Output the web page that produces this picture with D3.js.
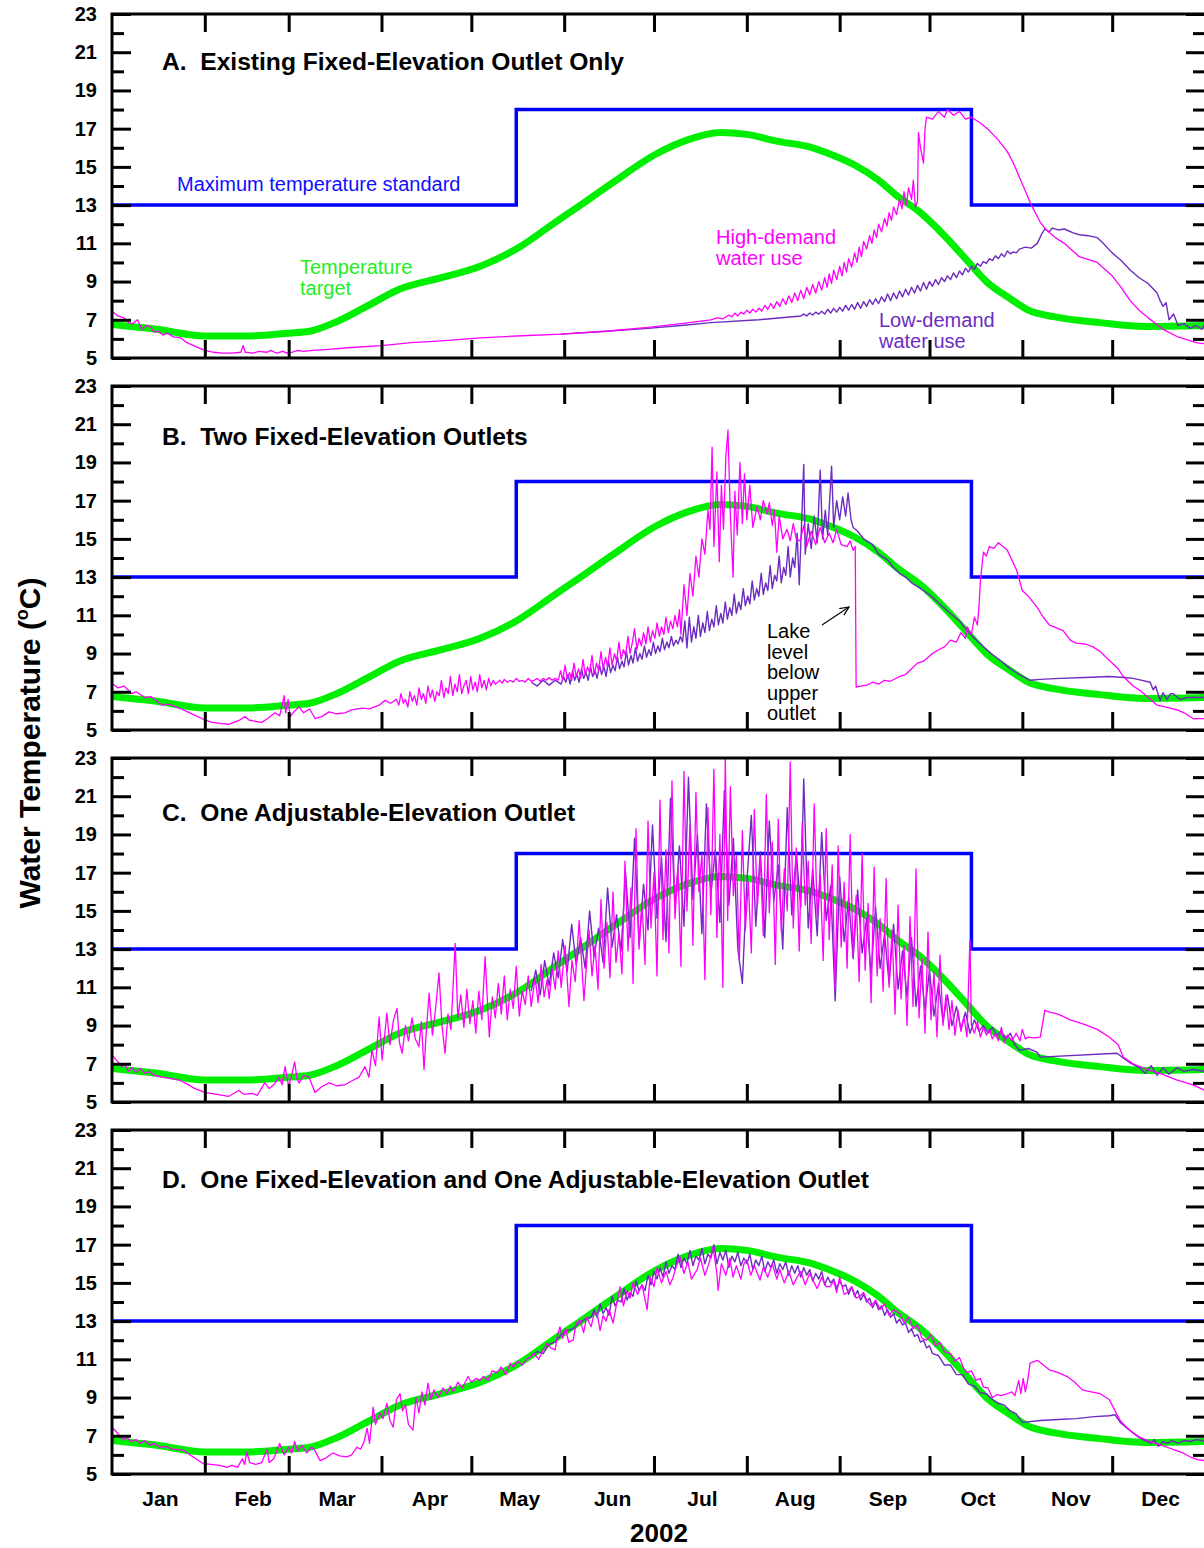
<!DOCTYPE html>
<html>
<head>
<meta charset="utf-8">
<script src="https://cdn.jsdelivr.net/npm/d3@7"></script>
<style>
  body { margin: 0; background: #fff; }
  svg { display: block; font-family: Arial, "Liberation Sans", sans-serif; }
</style>
</head>
<body>
<div id="chart"></div>
<script>
// ---- data (day of year 2002, water temperature in deg C) ----
var monthNames = ["Jan","Feb","Mar","Apr","May","Jun","Jul","Aug","Sep","Oct","Nov","Dec"];
var monthStarts = [0,31,59,90,120,151,181,212,243,273,304,334,365];
var labelTicks = [5,7,9,11,13,15,17,19,21,23];
var minorTicks = [6,8,10,12,14,16,18,20,22];

var panelTitles = [
  "A.  Existing Fixed-Elevation Outlet Only",
  "B.  Two Fixed-Elevation Outlets",
  "C.  One Adjustable-Elevation Outlet",
  "D.  One Fixed-Elevation and One Adjustable-Elevation Outlet"
];

// maximum temperature standard (step)
var stdDays  = [0, 135, 287, 365];
var stdTemps = [13, 18, 13, 13];

// temperature target (same in every panel)
var targetDays  = [0,15,31,45,59,66,75,85,96,110,123,136,148,156,167,182,192,203,212,222,234,241,248,256,262,270,278,285,292,300,306,315,330,345,365];
var targetTemps = [6.75,6.5,6.15,6.15,6.3,6.4,6.9,7.7,8.6,9.2,9.8,10.8,12.1,12.95,14.15,15.7,16.4,16.8,16.7,16.35,16.0,15.6,15.1,14.3,13.5,12.6,11.4,10.2,9.0,8.1,7.5,7.15,6.85,6.65,6.7];

// series written as day, temp, day, temp, ...
var aHigh = [0,7.45, 2,7.2, 4,7.1, 5.5,6.85, 7,6.8, 8.5,7.0, 10,6.5, 11.5,6.7, 13,6.6, 14,6.35, 15.5,6.4, 17,6.2, 18.5,6.3, 20.5,6.1, 23,6.05, 25,5.8, 28,5.6, 31,5.4, 34,5.3, 37,5.25, 40,5.25, 43,5.3, 43.8,5.65, 44.5,5.3, 47,5.25, 49,5.35, 51.8,5.3, 53,5.4, 55,5.25, 57,5.35, 58.5,5.25, 60,5.3, 62,5.4, 64,5.35, 67,5.4, 72,5.45, 80,5.55, 90,5.65, 100,5.8, 110,5.9, 123,6.05, 135,6.15, 150,6.25, 165,6.4, 179,6.6, 190,6.8, 200,7.0, 202,7.1, 204,7.05, 206,7.25, 207,7.15, 208,7.35, 209,7.2, 210,7.4, 211,7.3, 212,7.5, 213,7.35, 214,7.55, 215,7.4, 216,7.6, 217,7.45, 218,7.75, 219,7.55, 220,7.85, 221,7.6, 222,7.95, 223,7.7, 224,8.1, 225,7.8, 226,8.25, 227,7.9, 228,8.4, 229,8.0, 230,8.55, 231,8.1, 232,8.7, 233,8.3, 234,8.85, 235,8.4, 236,9.0, 237,8.55, 238,9.2, 238.8,8.7, 239.5,9.4, 240.3,8.9, 241,9.6, 242,9.1, 243,9.8, 243.8,9.3, 244.5,10.0, 245.3,9.5, 246,10.2, 247,9.75, 248,10.5, 248.8,10.0, 249.5,10.8, 250.3,10.3, 251,11.1, 252,10.7, 253,11.4, 253.8,11.0, 254.5,11.7, 255.3,11.3, 256,12.0, 257,11.6, 258,12.3, 258.8,11.9, 259.5,12.6, 260.3,12.2, 261,12.9, 262,12.5, 263,13.3, 263.8,12.8, 264.5,13.7, 265.3,13.0, 266,13.9, 267,13.3, 267.6,14.3, 268.3,12.9, 269,13.2, 269.3,16.8, 270,16.0, 271,15.2, 271.5,17.0, 272,17.6, 274,17.5, 276,17.9, 278,17.6, 279,18.0, 281,17.7, 283,17.9, 285,17.5, 287,17.6, 290,17.3, 293,16.9, 296,16.4, 299,15.8, 301,15.2, 304,14.1, 307,13.0, 310,12.1, 312,11.7, 315,11.3, 318,11.0, 323,10.3, 329,10.0, 334,9.3, 337,8.7, 340,8.0, 343,7.5, 346,7.1, 351,6.5, 356,6.1, 362,5.8, 365,5.75];

var aLow = [150,6.25, 165,6.4, 179,6.55, 190,6.7, 200,6.85, 216,7.0, 230,7.2, 231,7.3, 232,7.2, 233,7.35, 234,7.25, 235,7.4, 236,7.3, 237,7.45, 238,7.3, 239,7.55, 240,7.35, 241,7.6, 242,7.4, 243,7.65, 244,7.45, 245,7.75, 246,7.5, 247,7.8, 248,7.55, 249,7.9, 250,7.6, 251,7.95, 252,7.7, 253,8.05, 254,7.8, 255,8.1, 256,7.85, 257,8.2, 258,7.95, 259,8.35, 260,8.0, 261,8.4, 262,8.1, 263,8.5, 264,8.2, 265,8.6, 266,8.3, 267,8.7, 268,8.4, 269,8.8, 270,8.5, 271,8.95, 272,8.6, 273,9.0, 274,8.75, 275,9.1, 276,8.85, 277,9.2, 278,9.0, 279,9.3, 280,9.1, 281,9.45, 282,9.2, 283,9.55, 284,9.35, 285,9.7, 286,9.5, 287,9.8, 288,9.65, 289,9.95, 290,9.8, 291,10.05, 292,9.95, 293,10.2, 294,10.1, 295,10.35, 296,10.2, 297,10.45, 298,10.3, 299,10.6, 300,10.45, 301,10.55, 302,10.5, 303,10.7, 305,10.8, 307,10.75, 309,11.0, 310.5,11.5, 311.5,11.75, 313,11.6, 314,11.8, 316,11.7, 318,11.75, 321,11.55, 323,11.45, 326,11.4, 329,11.3, 331,11.0, 334,10.5, 337,10.1, 340,9.6, 343,9.2, 346,8.9, 349,8.4, 350,8.0, 351,7.7, 352,7.9, 353,7.0, 354.5,7.3, 356,6.7, 358,6.8, 360,6.55, 362,6.7, 364,6.5, 365,6.8];

var bHigh = [0,7.45, 2,7.2, 4,7.3, 6.7,6.9, 8,7.0, 11,6.7, 13,6.75, 16.7,6.3, 19,6.35, 22.4,6.15, 26,5.9, 30,5.6, 33.4,5.4, 36,5.35, 39,5.3, 42.4,5.5, 44.4,5.7, 46,5.5, 50,5.4, 52,5.6, 54.4,5.9, 56,5.75, 57.5,6.8, 58,5.9, 58.8,6.6, 59.5,5.7, 61,6.0, 62.5,6.2, 64,5.9, 66,6.1, 67.8,5.6, 70,5.7, 72.5,5.95, 75,5.85, 77.8,5.9, 80,6.05, 83.5,6.15, 86,6.1, 89.2,6.3, 91.2,6.55, 93,6.4, 95,6.6, 95.8,6.3, 96.5,6.9, 97.3,6.4, 98,6.6, 98.8,6.2, 99.5,7.0, 100.3,6.5, 101,6.8, 101.8,6.3, 102.5,7.2, 103.3,6.6, 104,6.9, 104.8,6.4, 105.5,7.3, 106.3,6.7, 107,7.1, 107.8,6.5, 108.5,7.0, 109.3,6.8, 110,7.6, 110.8,6.7, 111.5,7.2, 112.3,6.9, 113,7.8, 113.8,6.8, 114.5,7.4, 115.3,7.0, 116,7.9, 116.8,6.9, 117.5,7.3, 118.3,7.6, 119,6.9, 119.8,7.8, 120.5,7.1, 121.3,7.5, 122,7.0, 122.8,7.9, 123.5,7.2, 124.3,7.6, 125,7.1, 125.8,7.7, 126.5,7.3, 127.3,7.6, 128,7.4, 128.8,7.5, 129.5,7.6, 130.3,7.45, 131,7.65, 132,7.5, 133,7.6, 134,7.5, 135,7.7, 136,7.55, 137,7.6, 138,7.5, 139,7.7, 140,7.55, 141,7.6, 142,7.7, 143,7.55, 144,7.7, 145,7.6, 146,7.75, 147,7.6, 148,7.7, 149,7.6, 149.8,8.1, 150.5,7.6, 151.3,8.4, 152,7.7, 152.8,8.0, 153.5,7.6, 154.3,8.5, 155,7.8, 155.8,8.2, 156.5,7.7, 157.3,8.7, 158,7.9, 158.8,8.3, 159.5,8.0, 160.3,8.9, 161,7.9, 161.8,8.5, 162.5,8.1, 163.3,9.1, 164,8.2, 164.8,8.8, 165.5,8.3, 166.3,9.3, 167,8.4, 167.8,9.0, 168.5,8.6, 169.3,9.6, 170,8.7, 170.8,9.2, 171.5,8.9, 172.3,9.9, 173,9.0, 173.8,9.6, 174.5,10.3, 175.3,9.2, 176,9.8, 176.8,9.4, 177.5,10.1, 178.3,9.5, 179,10.4, 179.8,9.6, 180.5,10.2, 181.3,9.8, 182,10.6, 182.8,9.9, 183.5,10.4, 184.3,10.0, 185,10.9, 185.8,10.1, 186.5,10.7, 187.3,10.3, 188,11.0, 188.8,10.4, 189.5,11.3, 190,10.0, 191,12.6, 192,11.0, 193,13.2, 194,12.0, 195,14.1, 196,13.0, 197,15.0, 198,14.2, 199,16.5, 199.7,15.5, 200.4,19.8, 201,14.6, 202,18.5, 202.8,13.8, 203.5,17.8, 204.2,15.5, 205,19.3, 205.7,20.7, 206.5,16.2, 207.4,13.0, 208,17.5, 208.8,15.2, 209.7,19.0, 210.5,15.8, 211.2,18.4, 212,16.0, 213,17.8, 214,15.6, 215.4,16.7, 216.5,16.0, 217.5,17.0, 218.8,16.3, 219.5,16.9, 220.5,15.7, 221.2,16.5, 222,14.3, 222.8,16.2, 224,15.0, 225.4,15.5, 226.5,14.9, 227.5,15.8, 228.5,15.0, 229.8,14.9, 231,15.7, 232,14.6, 233.5,15.4, 235,14.7, 236.5,15.6, 238,14.8, 239.5,15.3, 240.8,14.8, 242,15.5, 243.5,14.7, 245.5,14.6, 246.5,14.9, 247.5,14.4, 248.2,14.6, 248.5,7.25, 250,7.3, 252,7.35, 254,7.5, 256,7.4, 258,7.6, 260,7.55, 263,7.8, 265,7.9, 267,8.2, 269,8.5, 271,8.6, 274,9.0, 276,9.2, 278,9.35, 280,9.7, 282,9.6, 283.5,10.1, 285,9.8, 285.6,10.4, 287,10.0, 288,10.9, 289,10.5, 289.5,11.4, 290,12.8, 291,14.3, 292,14.1, 293,14.6, 294.5,14.5, 296,14.8, 297.5,14.6, 299,14.4, 302,13.4, 304,12.3, 306,12.0, 309,11.4, 311,10.9, 313,10.5, 317.6,10.2, 320,9.7, 322,9.55, 325,9.5, 327.6,9.35, 330,9.1, 333,8.65, 336,8.2, 337.7,7.8, 341,7.3, 343,7.1, 345.7,6.75, 349,6.3, 352,6.2, 355.7,6.05, 358,5.9, 361,5.6, 365,5.6];

var bLow = [140,7.5, 142,7.3, 144,7.6, 146,7.35, 148,7.6, 150,7.4, 150.8,7.8, 151.5,7.5, 152.3,7.9, 153,7.4, 153.8,8.1, 154.5,7.6, 155.3,7.9, 156,7.5, 156.8,8.2, 157.5,7.7, 158.3,8.0, 159,7.6, 159.8,8.3, 160.5,7.8, 161.3,8.1, 162,7.7, 162.8,8.4, 163.5,7.9, 164.3,8.3, 165,7.8, 165.8,8.6, 166.5,8.0, 167.3,8.4, 168,8.1, 168.8,8.8, 169.5,8.2, 170.3,8.6, 171,8.3, 171.8,9.1, 172.5,8.4, 173.3,8.9, 174,8.5, 174.8,9.3, 175.5,8.6, 176.3,9.0, 177,8.7, 177.8,9.4, 178.5,8.8, 179.3,9.2, 180,8.9, 180.8,9.6, 181.5,9.0, 182.3,9.4, 183,9.1, 183.8,9.8, 184.5,9.2, 185.3,9.6, 186,9.3, 186.8,9.9, 187.5,9.4, 188.3,9.7, 189,9.5, 189.8,9.9, 190.5,9.6, 191.3,10.7, 192,9.3, 192.8,10.9, 193.5,9.6, 194.3,10.4, 195,9.8, 195.8,11.0, 196.5,9.9, 197.3,10.6, 198,10.1, 198.8,11.2, 199.5,10.2, 200.3,10.8, 201,10.4, 201.8,11.5, 202.5,10.5, 203.3,11.1, 204,10.6, 204.8,11.7, 205.5,10.8, 206.3,11.4, 207,11.0, 207.8,12.1, 208.5,11.1, 209.3,11.7, 210,11.3, 210.8,12.4, 211.5,11.5, 212.3,12.0, 213,11.6, 213.8,12.8, 214.5,11.8, 215.3,12.4, 216,12.0, 216.8,13.2, 217.5,12.1, 218.3,12.7, 219,12.3, 219.8,13.6, 220.5,12.4, 221.3,13.1, 222,12.8, 222.8,14.1, 223.5,12.7, 224.3,13.5, 225,13.1, 225.8,14.6, 226.5,13.0, 227.3,14.0, 228,13.5, 228.8,15.3, 229.5,12.6, 230.3,15.9, 231,18.9, 231.5,14.2, 232.5,15.8, 233.5,14.5, 234.5,16.2, 235.5,14.8, 236.5,18.6, 237.3,15.0, 238.2,16.5, 239,15.2, 240.3,18.8, 241,15.6, 242,17.0, 243,16.0, 244,17.2, 245,16.2, 245.8,17.4, 246.8,16.0, 247.5,15.6, 249,15.4, 251,15.0, 252,14.9, 254,14.7, 256,14.2, 257.5,14.05, 259,13.9, 261,13.5, 263,13.2, 265,13.0, 267,12.7, 269,12.5, 271,12.3, 274,11.95, 277,11.5, 280,11.1, 283,10.7, 285.6,10.2, 288,9.8, 291,9.35, 294,8.95, 296.6,8.65, 300,8.2, 303,7.9, 306.6,7.6, 310,7.65, 316.6,7.7, 325,7.75, 333,7.8, 338,7.75, 341,7.7, 344,7.6, 346.7,7.5, 347.7,7.1, 348.5,7.3, 350,6.55, 351,6.95, 352.3,6.6, 353.5,6.9, 354.4,6.9, 356.7,6.6, 359,6.7, 361,6.7, 365,6.7];

var cHigh = [0,7.45, 2,7.1, 3.3,6.85, 4.5,6.95, 5.5,6.6, 6.7,6.8, 8,6.55, 9.5,6.75, 11,6.5, 12.5,6.6, 14,6.4, 16.7,6.3, 19,6.25, 22.4,6.15, 25,5.95, 27.7,5.7, 31,5.5, 35,5.4, 39,5.3, 42.4,5.6, 44,5.4, 46.8,5.45, 48.5,5.35, 51,6.0, 52.5,5.7, 54,5.9, 55.8,6.3, 56.8,5.9, 57.8,6.85, 59,5.8, 60,6.4, 61,7.1, 61.8,6.2, 62.5,6.0, 64,6.4, 65.8,6.3, 67.8,5.5, 70,5.8, 72.5,6.0, 75,5.85, 77.8,5.9, 80,6.1, 82.5,6.3, 84.5,6.85, 85.8,6.3, 86.8,7.7, 88,6.9, 89.2,9.45, 90.2,7.2, 91.8,9.65, 92.8,8.0, 94,9.3, 95.2,9.9, 96,8.1, 96.9,7.55, 98,9.0, 99,8.2, 100.2,9.4, 101.3,8.3, 102.5,7.9, 103.3,9.2, 104.2,6.7, 105,8.8, 105.9,10.7, 107,8.5, 108,9.8, 109.2,11.75, 110.2,9.0, 111.2,7.55, 112.2,9.6, 113.2,8.8, 114.6,13.3, 115.5,9.4, 116.5,10.6, 117.5,8.9, 118.5,10.9, 119.5,9.1, 120.5,10.3, 121.5,8.6, 122.5,10.8, 123.5,9.3, 124.6,12.6, 126,8.4, 127,10.5, 128,9.4, 129,11.2, 130,9.6, 131,11.6, 132,9.3, 133,10.9, 134,9.9, 135,12.1, 136,9.5, 137,10.8, 138,10.1, 139,11.6, 140,10.0, 141.3,11.5, 142.3,10.2, 143.3,12.2, 144.3,10.5, 145.3,11.4, 146,10.4, 147,12.0, 148,10.9, 149,12.9, 150,11.0, 151.3,13.2, 152.6,10.0, 153.6,12.4, 154.7,11.3, 156,14.5, 157.6,10.3, 159.3,14.0, 160.3,11.6, 161.3,13.2, 162.3,10.9, 163.3,15.6, 164.3,12.0, 165.3,14.4, 166.3,11.5, 167.3,16.0, 168.3,12.3, 169.3,13.8, 170.3,11.7, 171.3,17.6, 172.3,12.9, 173.3,16.2, 174,11.2, 175,19.3, 176,13.0, 177,15.4, 178,12.2, 179,19.7, 180,14.1, 181,17.0, 182,11.6, 183,20.8, 184,13.5, 185,18.2, 186,12.8, 187,21.8, 188,14.6, 189,17.3, 190,12.1, 191,22.3, 192,15.0, 193,19.5, 194,13.2, 195,21.2, 196,16.0, 197,18.0, 198,11.4, 199,20.4, 200,14.8, 201,22.4, 202,13.6, 203,19.0, 204,11.0, 204.8,23.0, 205.6,14.5, 206.5,21.5, 207.5,15.8, 208.5,17.9, 209.5,12.4, 210.5,19.2, 211.5,14.0, 212.5,16.5, 213.5,12.8, 214.5,20.3, 215.5,15.2, 216.5,17.8, 217.5,13.7, 218.5,21.1, 219.5,14.9, 220.5,18.6, 221.5,12.2, 222.5,19.8, 223.5,13.9, 224.5,17.2, 225.5,15.0, 226.5,22.8, 227.5,14.1, 228.5,18.3, 229.5,12.9, 230.5,19.6, 231.5,15.3, 232.5,17.6, 233.5,13.3, 234.5,20.6, 235.5,14.7, 236.5,16.9, 237.5,12.4, 238.5,19.3, 239.5,13.5, 240.5,17.4, 241.5,10.9, 242.5,18.4, 243.5,13.1, 244.5,16.5, 245.5,12.0, 246.5,19.0, 247.5,12.6, 248.5,15.8, 249.5,11.3, 250.5,18.0, 251.5,11.9, 252.5,15.4, 253.5,10.2, 254.5,17.3, 255.5,11.6, 256.5,14.6, 257.5,10.8, 258.5,16.7, 259.5,11.0, 260.5,14.0, 261.5,9.6, 262.5,15.3, 263.5,10.4, 264.5,13.2, 265.5,9.0, 266.5,14.7, 267.5,10.0, 268.5,17.2, 269.5,9.4, 270.5,12.5, 271.5,8.6, 272.5,13.9, 273.5,9.3, 274.5,11.8, 275.5,8.4, 276.5,12.7, 277.5,9.0, 278.5,10.6, 279.5,8.8, 280.5,10.3, 281.5,8.5, 282.5,9.8, 283.5,8.7, 284.5,9.5, 285.5,8.4, 286.5,13.5, 287,9.0, 288,8.6, 289,9.2, 290,8.4, 291,8.9, 292,8.5, 293,8.8, 294,8.3, 295,8.6, 296,8.2, 297,8.9, 298,8.1, 299,8.5, 300.5,8.2, 302,8.6, 303.2,8.2, 304,8.8, 305,8.3, 306,8.4, 308,8.35, 310,8.4, 311.5,9.8, 313,9.7, 316,9.6, 320,9.3, 325,9.05, 329,8.8, 333,8.4, 336,8.0, 337.7,7.35, 341,7.0, 345.7,6.7, 350,6.5, 355.7,6.15, 361,5.9, 365,5.6];

var cLow = [140,10.8, 141.5,11.9, 143,10.6, 144.5,12.4, 146,11.1, 147.5,12.8, 149,11.5, 150.5,13.5, 152,11.8, 153.5,14.3, 155,12.2, 156.5,13.6, 158,12.0, 159.5,15.0, 161,12.6, 162.5,14.1, 164,12.3, 165.5,16.2, 167,13.1, 168.5,14.8, 170,12.9, 171.5,17.0, 173,13.6, 174.5,18.8, 176,13.2, 177.5,16.4, 179,14.0, 180.5,19.5, 182,14.6, 183.5,17.8, 185,13.4, 186.5,20.9, 188,15.1, 189.5,18.4, 191,14.2, 192.5,22.0, 194,15.6, 195.5,19.0, 197,13.8, 198.5,20.6, 200,15.9, 201.5,18.2, 203,14.4, 204.5,21.3, 206,15.3, 207.5,18.8, 209,13.0, 210.5,11.2, 212,16.5, 213.5,20.0, 215,14.2, 216.5,18.1, 218,13.6, 219.5,19.7, 221,15.5, 222.5,17.4, 224,13.0, 225.5,20.4, 227,14.8, 228.5,18.0, 230,15.2, 231,21.9, 232.5,14.1, 234,17.2, 235.5,13.7, 237,19.1, 238.5,14.5, 240,16.3, 241.5,10.3, 243,16.8, 244.5,13.4, 246,15.7, 247.5,12.5, 249,16.1, 250.5,12.8, 252,14.6, 253.5,11.7, 255,15.2, 256.5,12.0, 258,13.8, 259.5,11.2, 261,14.3, 262.5,10.9, 264,12.9, 265.5,10.5, 267,13.6, 268.5,10.0, 270,12.1, 271.5,9.8, 273,11.9, 274.5,9.5, 276,11.2, 277.5,9.2, 279,10.6, 280.5,9.0, 282,10.0, 283.5,8.8, 285,9.7, 286.5,8.6, 288,9.3, 289.5,8.7, 291,9.0, 292.5,8.6, 294,8.9, 295.5,8.5, 297,8.7, 298.5,8.3, 300,8.6, 301.5,8.0, 303,7.7, 306,7.8, 309,7.6, 310,7.35, 335.6,7.55, 337.7,7.3, 340,7.05, 343,6.8, 345,6.5, 347,6.9, 349,6.4, 351,6.8, 353,6.45, 355.7,6.8, 358,6.6, 361,6.7, 365,6.6];

var dHigh = [0,7.45, 1.5,7.2, 3.7,6.8, 5,6.9, 6.5,6.7, 8,6.8, 9.5,6.6, 11,6.75, 12.7,6.5, 14,6.6, 16,6.4, 18,6.45, 20,6.3, 23.7,6.25, 27,5.9, 30.4,5.55, 33,5.5, 36,5.45, 38.4,5.35, 40,5.45, 42,5.35, 43.5,5.8, 44.3,5.5, 45,6.15, 46,5.6, 48,5.5, 50,5.6, 51.8,6.3, 52.5,5.6, 54,5.8, 56,6.6, 57.5,6.0, 59,6.4, 60,6.1, 61,6.7, 62,6.2, 63.5,6.5, 65,6.1, 66.5,6.4, 67.5,6.3, 69.5,5.7, 71,5.8, 73.8,6.1, 76,5.95, 78.5,5.9, 80,6.0, 81.8,6.4, 83,6.3, 84.2,6.7, 85.2,7.4, 86,6.6, 87.2,8.5, 88,7.6, 89.5,8.2, 90.5,7.9, 91.8,8.7, 92.8,7.8, 93.9,7.45, 95,8.9, 96.2,9.2, 97,8.3, 98,8.6, 99,7.6, 100.5,7.3, 101.5,9.0, 102.5,8.2, 103.5,9.3, 104.5,8.6, 105.5,9.75, 106.5,8.9, 107.5,9.4, 109,9.0, 110.5,9.5, 111.9,9.2, 113,9.6, 114,9.3, 115.5,9.8, 117,9.5, 118.9,10.1, 120,9.8, 121.5,10.0, 122.9,9.9, 124,10.1, 125.5,9.9, 127,10.4, 128.6,10.3, 130,10.6, 131.5,10.2, 133,10.8, 134,10.6, 135.5,10.9, 137,10.7, 138.5,11.0, 139.6,11.1, 141,11.3, 142.5,11.0, 144,11.5, 145.3,11.85, 146.5,11.6, 148,11.5, 148.8,12.3, 149.6,12.7, 150.5,12.1, 151.5,12.6, 152.5,11.9, 154,12.0, 155,12.9, 156.3,13.05, 157.5,12.4, 158.5,13.2, 160,12.7, 161,13.4, 162,13.4, 163,12.5, 164,13.3, 165,13.0, 166,13.6, 167.3,12.9, 168.5,13.9, 169.7,14.8, 170.8,13.8, 172,14.6, 173,14.2, 174,15.0, 175.5,14.4, 177,14.9, 178.7,13.6, 179.7,15.3, 181,14.8, 182,15.8, 183.5,15.0, 185,15.6, 186.3,14.9, 187.4,15.3, 188.5,15.9, 189.7,16.35, 191,15.5, 192.3,16.1, 193.5,15.2, 195.4,15.7, 196.5,16.3, 198,15.4, 199.5,16.1, 200.7,16.9, 202,15.5, 202.4,14.6, 203.5,16.0, 205,15.4, 206.3,16.3, 207.4,15.3, 208.5,15.9, 210,15.2, 211,16.0, 212,16.2, 213.3,15.4, 214.5,15.9, 216.4,15.15, 217.5,15.8, 219,15.3, 220.5,16.0, 222,15.2, 223,15.7, 224.5,15.0, 226,15.6, 227.5,14.9, 228.8,15.3, 230,15.6, 231.5,14.9, 233,15.5, 234,15.15, 235.5,14.7, 237,15.3, 238.5,14.8, 239.8,14.8, 241,15.1, 242,14.5, 243,15.3, 244.5,14.4, 245.5,14.5, 247,14.8, 248.5,14.2, 249.8,14.3, 251,14.5, 252,14.1, 253.5,13.8, 255,14.1, 256.5,13.6, 258,13.9, 259.5,13.3, 261,13.6, 263,13.4, 264.5,12.9, 266,13.2, 267.5,12.6, 269,12.8, 270.5,12.1, 272,12.0, 273.5,12.3, 275,11.7, 276.5,11.9, 278,11.4, 280,11.3, 281.5,10.9, 283,11.1, 284.5,10.5, 285.6,10.3, 287,10.4, 288.5,9.9, 290,10.0, 291,9.55, 292.5,9.5, 294,9.0, 295.5,9.15, 297,9.1, 299,9.2, 300.5,9.3, 301.5,9.1, 302,9.4, 302.8,9.9, 303.5,9.2, 304.3,10.0, 305,9.3, 305.8,9.9, 306.6,10.8, 309,10.95, 311,10.7, 313,10.45, 316,10.3, 319,10.1, 321.5,9.8, 324,9.4, 327,9.3, 330,9.2, 333,8.9, 335,8.3, 336.7,7.8, 339,7.4, 341,7.15, 343.5,6.9, 346.7,6.7, 349.5,6.55, 352.4,6.4, 355,6.25, 357.7,6.1, 360,5.9, 362.4,5.75, 365,5.7];

var dLow = [140,11.2, 142,11.4, 144,11.3, 146,11.8, 148,11.9, 150,12.3, 152,12.5, 154,12.6, 156,12.9, 158,13.1, 160,13.2, 161,13.6, 162,13.2, 163,13.9, 164,13.4, 165,13.7, 166,13.3, 167,14.3, 168,13.8, 169,14.1, 170,14.0, 171,14.7, 172,14.1, 173,14.5, 174,14.3, 175,15.1, 176,14.6, 177,14.9, 178,14.6, 179,15.4, 180,14.9, 181,15.6, 182,15.2, 183,15.8, 184,15.3, 185,16.1, 186,15.5, 187,15.9, 188,15.7, 189,16.5, 190,15.8, 191,16.3, 192,16.0, 193,16.7, 194,15.9, 195,16.4, 196,16.2, 197,16.8, 198,16.0, 199,16.5, 200,16.3, 201,17.0, 202,16.0, 203,16.6, 204,16.2, 205,16.7, 206,15.8, 207,16.4, 208,16.1, 209,16.6, 210,15.9, 211,16.3, 212,16.0, 213,16.5, 214,15.7, 215,16.2, 216,15.9, 217,16.4, 218,15.6, 219,16.1, 220,15.8, 221,16.2, 222,15.5, 223,16.0, 224,15.7, 225,16.1, 226,15.4, 227,15.9, 228,15.5, 229,15.9, 230,15.3, 231,15.8, 232,15.4, 233,15.7, 234,15.1, 235,15.5, 236,15.2, 237,15.6, 238,14.9, 239,15.3, 240,15.0, 241,15.2, 242,14.7, 243,15.1, 244,14.8, 245,14.9, 246,14.4, 247,14.8, 248,14.3, 249,14.6, 250,14.1, 251,14.4, 252,14.0, 253,14.2, 254,13.7, 255,14.0, 256,13.6, 257,13.8, 258,13.3, 259,13.6, 260,13.2, 261,13.4, 262,12.9, 263,13.1, 264,12.8, 265,12.9, 266,12.4, 267,12.6, 268,12.2, 269,12.3, 270,11.9, 271,12.0, 272,11.6, 273,11.7, 274,11.3, 276,11.2, 278,10.7, 280,10.7, 282,10.2, 284,10.2, 286,9.7, 288,9.6, 290,9.25, 292,9.2, 294,8.9, 296,8.7, 298,8.6, 300,8.3, 302,8.15, 303,7.9, 304,7.7, 310,7.8, 316,7.85, 322,7.9, 328,8.0, 333,8.05, 335,8.1, 336.7,7.7, 339,7.4, 341,7.15, 343,6.9, 345,6.75, 347,6.6, 348,6.8, 349.5,6.45, 351,6.7, 352.4,6.6, 354,6.75, 356,6.6, 358,6.75, 360,6.7, 362,6.8, 364,6.75, 365,6.7];

// ---- layout ----
var W = 1204, H = 1548;
var plotLeft = 112, plotRight = 1205;
var panelTop = 14, panelH = 344, panelStep = 372;
var titleDrop = [56, 59, 63, 58];
var blue = "#0000ff", green = "#00ee00", magenta = "#ff00ff", purple = "#6c2cc0";

function pairs(flat) {
  var out = [];
  for (var i = 0; i < flat.length; i += 2) out.push([flat[i], flat[i + 1]]);
  return out;
}

var panels = [
  {title: panelTitles[0], high: pairs(aHigh), low: pairs(aLow)},
  {title: panelTitles[1], high: pairs(bHigh), low: pairs(bLow)},
  {title: panelTitles[2], high: pairs(cHigh), low: pairs(cLow)},
  {title: panelTitles[3], high: pairs(dHigh), low: pairs(dLow)}
];
var stdData = stdDays.map(function(d, i){ return [d, stdTemps[i]]; });
var targetData = targetDays.map(function(d, i){ return [d, targetTemps[i]]; });

var svg = d3.select("#chart").append("svg").attr("width", W).attr("height", H);
var x = d3.scaleLinear().domain([0, 365]).range([plotLeft, plotRight]);

var defs = svg.append("defs");
defs.append("marker").attr("id", "arrow")
    .attr("viewBox", "0 0 10 10").attr("refX", 9).attr("refY", 5)
    .attr("markerWidth", 10).attr("markerHeight", 10).attr("markerUnits", "userSpaceOnUse")
    .attr("orient", "auto")
  .append("path").attr("d", "M0,1 L9,5 L0,9").attr("fill", "none").attr("stroke", "#000").attr("stroke-width", 1.2);

function styleTicks(g, w) {
  g.select(".domain").remove();
  g.selectAll("line").attr("stroke", "#000").attr("stroke-width", w);
}

panels.forEach(function(p, i){
  var top = panelTop + i * panelStep;
  var bottom = top + panelH;
  var y = d3.scaleLinear().domain([5, 23]).range([bottom, top]);
  var g = svg.append("g");

  defs.append("clipPath").attr("id", "clip" + i)
    .append("rect").attr("x", plotLeft).attr("y", top).attr("width", plotRight - plotLeft).attr("height", panelH);

  var line = d3.line().x(function(d){ return x(d[0]); }).y(function(d){ return y(d[1]); });
  var plot = g.append("g").attr("clip-path", "url(#clip" + i + ")");

  plot.append("path").datum(stdData)
    .attr("d", line.curve(d3.curveStepAfter))
    .attr("fill", "none").attr("stroke", blue).attr("stroke-width", 3.5);
  plot.append("path").datum(targetData)
    .attr("d", line.curve(d3.curveMonotoneX))
    .attr("fill", "none").attr("stroke", green).attr("stroke-width", 7).attr("stroke-linecap", "round");
  line.curve(d3.curveLinear);
  plot.append("path").datum(p.low)
    .attr("d", line)
    .attr("fill", "none").attr("stroke", purple).attr("stroke-width", 1.4).attr("stroke-linejoin", "round");
  plot.append("path").datum(p.high)
    .attr("d", line)
    .attr("fill", "none").attr("stroke", magenta).attr("stroke-width", 1.3).attr("stroke-linejoin", "round");

  // inward ticks, all four sides
  g.append("g").attr("transform", "translate(" + plotLeft + ",0)")
    .call(d3.axisLeft(y).tickValues(labelTicks).tickSize(-19).tickFormat(""))
    .call(styleTicks, 3);
  g.append("g").attr("transform", "translate(" + plotLeft + ",0)")
    .call(d3.axisLeft(y).tickValues(minorTicks).tickSize(-12).tickFormat(""))
    .call(styleTicks, 3);
  g.append("g").attr("transform", "translate(" + plotRight + ",0)")
    .call(d3.axisRight(y).tickValues(labelTicks).tickSize(-19).tickFormat(""))
    .call(styleTicks, 3);
  g.append("g").attr("transform", "translate(" + plotRight + ",0)")
    .call(d3.axisRight(y).tickValues(minorTicks).tickSize(-12).tickFormat(""))
    .call(styleTicks, 3);
  g.append("g").attr("transform", "translate(0," + bottom + ")")
    .call(d3.axisBottom(x).tickValues(monthStarts.slice(1, 12)).tickSize(-18).tickFormat(""))
    .call(styleTicks, 3);
  g.append("g").attr("transform", "translate(0," + top + ")")
    .call(d3.axisTop(x).tickValues(monthStarts.slice(1, 12)).tickSize(-18).tickFormat(""))
    .call(styleTicks, 3);

  // y labels
  var yl = g.append("g").attr("transform", "translate(" + plotLeft + ",0)")
    .call(d3.axisLeft(y).tickValues(labelTicks).tickSize(0).tickPadding(15));
  yl.select(".domain").remove();
  yl.selectAll("text").attr("font-size", 20).attr("font-weight", "bold")
    .attr("font-family", "Arial, 'Liberation Sans', sans-serif").attr("fill", "#000");

  // frame (right edge falls just outside the page)
  g.append("path")
    .attr("d", "M" + (plotRight + 1.5) + "," + top + "H" + plotLeft + "V" + bottom + "H" + (plotRight + 1.5))
    .attr("fill", "none").attr("stroke", "#000").attr("stroke-width", 3);

  g.append("text").attr("x", 162).attr("y", top + titleDrop[i])
    .attr("font-size", 24.6).attr("font-weight", "bold").attr("fill", "#000")
    .attr("xml:space", "preserve").style("white-space", "pre")
    .text(p.title);

  if (i === 3) {
    var xl = g.append("g").attr("transform", "translate(0," + bottom + ")")
      .call(d3.axisBottom(x).tickValues(monthStarts.slice(0, 12).map(function(d){ return d + 16; }))
        .tickSize(0).tickPadding(17).tickFormat(function(d, k){ return monthNames[k]; }));
    xl.select(".domain").remove();
    xl.selectAll("text").attr("font-size", 21).attr("font-weight", "bold")
      .attr("font-family", "Arial, 'Liberation Sans', sans-serif").attr("fill", "#000");
  }
});

// annotations, panel A
function label(txt, xp, yp, col) {
  svg.append("text").attr("x", xp).attr("y", yp).attr("font-size", 20).attr("fill", col).text(txt);
}
label("Maximum temperature standard", 177, 191, "#1010ff");
label("Temperature", 300, 274, "#22ee22");
label("target", 300, 295, "#22ee22");
label("High-demand", 716, 244, magenta);
label("water use", 716, 265, magenta);
label("Low-demand", 879, 327, purple);
label("water use", 879, 348, purple);

// annotation, panel B
["Lake", "level", "below", "upper", "outlet"].forEach(function(t, k){
  label(t, 767, 638 + k * 20.6, "#000");
});
svg.append("line").attr("x1", 822).attr("y1", 625).attr("x2", 849).attr("y2", 607)
  .attr("stroke", "#000").attr("stroke-width", 1.2).attr("marker-end", "url(#arrow)");

// axis titles
svg.append("text").attr("x", 659).attr("y", 1542).attr("text-anchor", "middle")
  .attr("font-size", 26).attr("font-weight", "bold").text("2002");
var yt = svg.append("text").attr("transform", "translate(40,743) rotate(-90)")
  .attr("text-anchor", "middle").attr("font-size", 30).attr("font-weight", "bold");
yt.append("tspan").text("Water Temperature (");
yt.append("tspan").attr("font-size", 18).attr("dy", -12).text("o");
yt.append("tspan").attr("dy", 12).text("C)");
</script>
</body>
</html>
